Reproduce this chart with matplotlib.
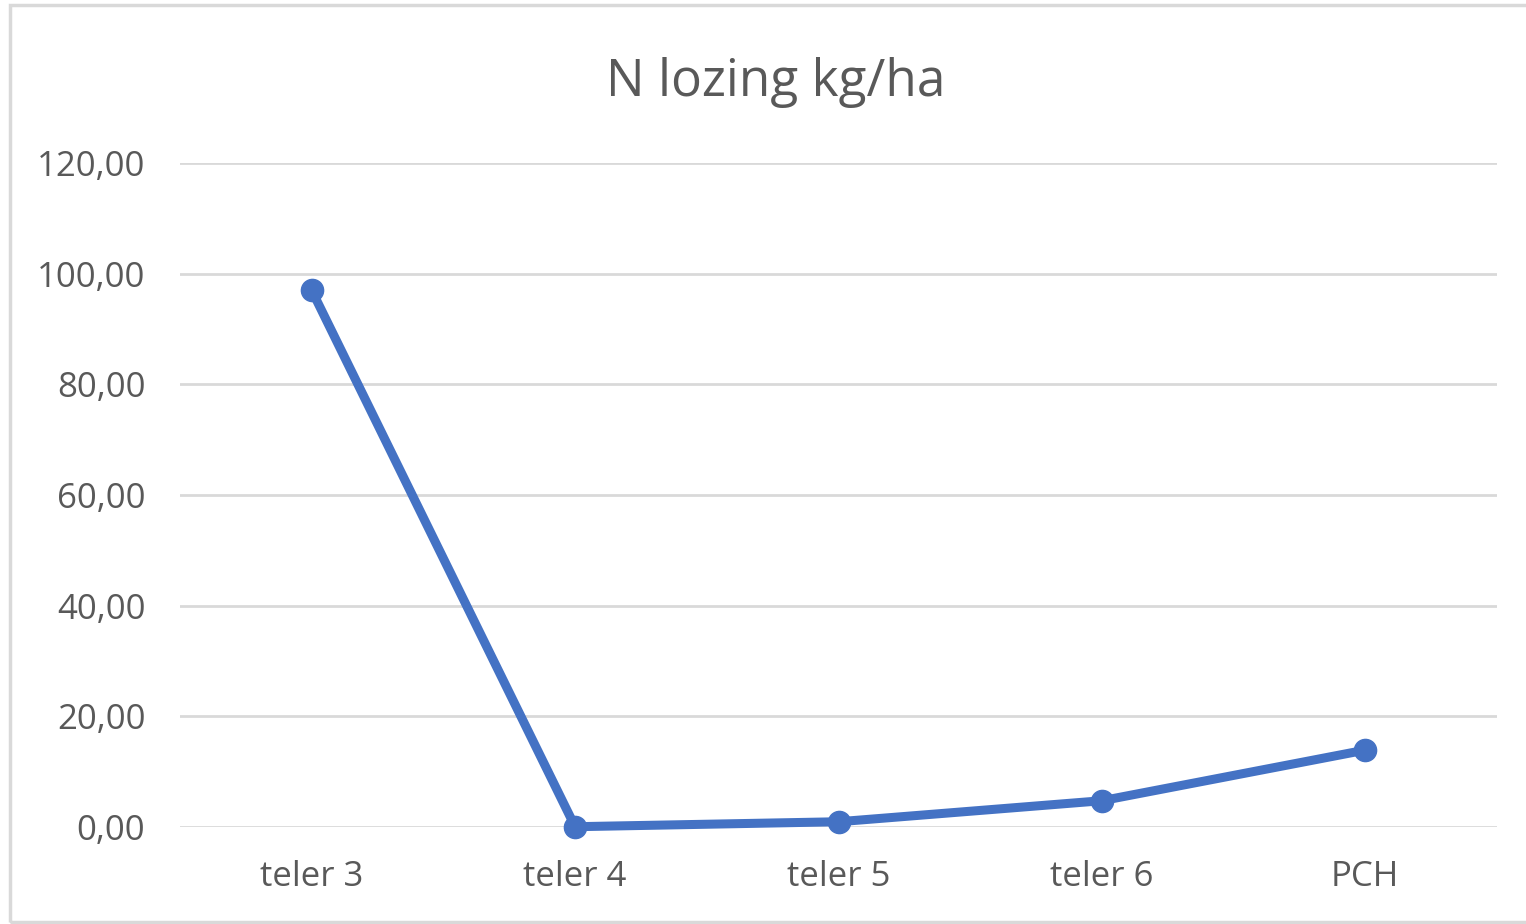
import matplotlib
matplotlib.use("Agg")
import matplotlib.pyplot as plt
from matplotlib.patches import Rectangle

categories = ["teler 3", "teler 4", "teler 5", "teler 6", "PCH"]
values = [97.0, 0.05, 0.95, 4.75, 13.9]
yticks = [0, 20, 40, 60, 80, 100, 120]
ytick_labels = ["0,00", "20,00", "40,00", "60,00", "80,00", "100,00", "120,00"]
title = "N lozing kg/ha"

plt.rcParams['font.family'] = ['Open Sans', 'DejaVu Sans']

fig = plt.figure(figsize=(15.26, 9.24), dpi=100)
fig.patch.set_facecolor("white")
fig.add_artist(Rectangle((10/1526, 1 - 922/924), 1.0, 917/924,
                         transform=fig.transFigure, fill=False,
                         edgecolor="#D9D9D9", linewidth=2.5))

ax = fig.add_axes([180/1526, 1 - 827/924, (1497 - 180)/1526, (827 - 163)/924])
x = list(range(len(categories)))
ax.plot(x, values, color="#4472C4", linewidth=6.5, marker="o", markersize=16,
        solid_capstyle="round", zorder=3, clip_on=False)

ax.set_xlim(-0.5, len(categories) - 0.5)
ax.set_ylim(0, 120)
ax.set_yticks(yticks)
ax.set_yticklabels(ytick_labels)
ax.set_xticks(x)
ax.set_xticklabels(categories)
ax.grid(axis="y", color="#D9D9D9", linewidth=2)
ax.set_axisbelow(True)
for s in ax.spines.values():
    s.set_visible(False)
ax.tick_params(axis="both", length=0, labelsize=25, colors="#595959")
ax.tick_params(axis="y", pad=25)
ax.tick_params(axis="x", pad=24)

fig.text(776/1526, 1 - 83/924, title, ha="center", va="center",
         fontsize=37, color="#595959")

fig.savefig("out.png", dpi=100, facecolor="white")
